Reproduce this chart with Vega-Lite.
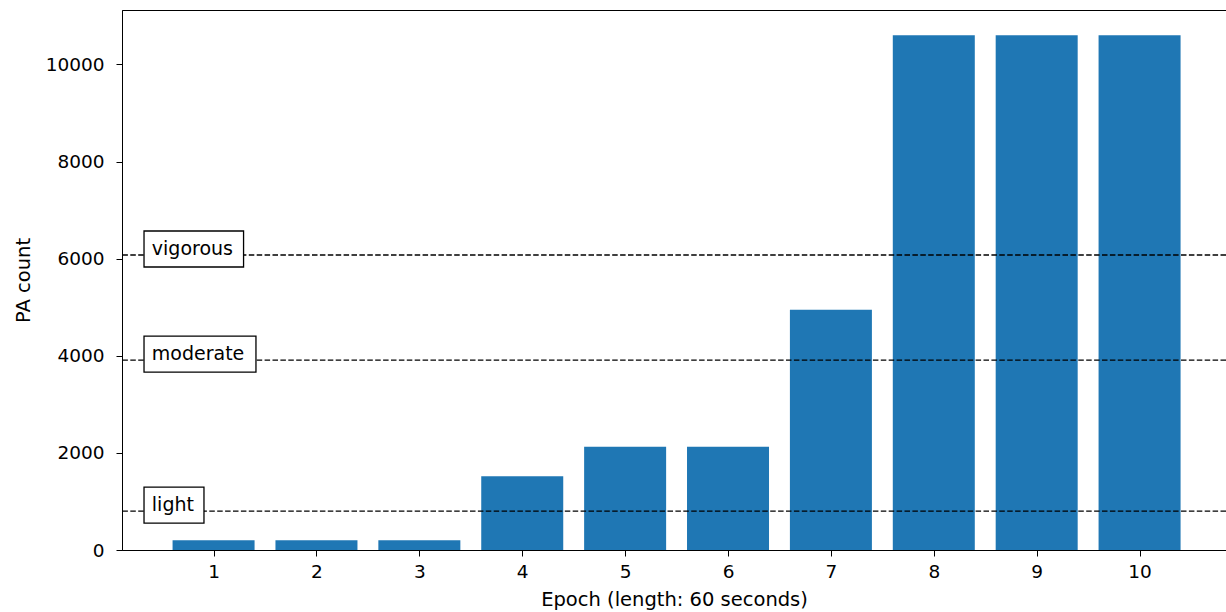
{
  "$schema": "https://vega.github.io/schema/vega-lite/v6.json",
  "width": 1104,
  "height": 540,
  "autosize": {"type": "none"},
  "padding": {"left": 122, "top": 10, "right": 0, "bottom": 62},
  "background": "white",
  "datasets": {
    "bars": [
      {"epoch": 1, "count": 200},
      {"epoch": 2, "count": 200},
      {"epoch": 3, "count": 200},
      {"epoch": 4, "count": 1520},
      {"epoch": 5, "count": 2125},
      {"epoch": 6, "count": 2125},
      {"epoch": 7, "count": 4945},
      {"epoch": 8, "count": 10600},
      {"epoch": 9, "count": 10600},
      {"epoch": 10, "count": 10600}
    ],
    "thresholds": [
      {"label": "light", "value": 800},
      {"label": "moderate", "value": 3910},
      {"label": "vigorous", "value": 6075}
    ]
  },
  "config": {
    "view": {"stroke": "black", "strokeWidth": 1},
    "font": "DejaVu Sans",
    "axis": {
      "labelFont": "DejaVu Sans",
      "titleFont": "DejaVu Sans",
      "labelFontSize": 18.5,
      "titleFontSize": 19.5,
      "titleFontWeight": "normal",
      "labelColor": "black",
      "titleColor": "black",
      "domainColor": "black",
      "tickColor": "black",
      "grid": false,
      "tickSize": 6,
      "format": "d"
    }
  },
  "layer": [
    {
      "data": {"name": "bars"},
      "mark": {"type": "bar", "size": 82, "color": "#1f77b4"},
      "encoding": {
        "x": {
          "field": "epoch", "type": "quantitative",
          "scale": {"domain": [0.11, 10.84], "nice": false, "zero": false, "padding": 0},
          "axis": {"values": [1, 2, 3, 4, 5, 6, 7, 8, 9, 10], "title": "Epoch (length: 60 seconds)", "labelPadding": 6, "titlePadding": 10}
        },
        "y": {
          "field": "count", "type": "quantitative",
          "scale": {"domain": [0, 11120], "nice": false, "padding": 0},
          "axis": {"values": [0, 2000, 4000, 6000, 8000, 10000], "title": "PA count", "labelPadding": 12, "titlePadding": 12}
        }
      }
    },
    {
      "data": {"name": "thresholds"},
      "mark": {"type": "rule", "color": "black", "strokeWidth": 1.4, "strokeDash": [5.5, 2.4]},
      "encoding": {
        "y": {"field": "value", "type": "quantitative", "title": "PA count"}
      }
    },
    {
      "data": {"name": "thresholds"},
      "transform": [{"filter": "datum.label === 'vigorous'"}],
      "mark": {"type": "rect", "fill": "white", "stroke": "black", "strokeWidth": 1.3, "height": 36, "yOffset": -6},
      "encoding": {
        "x": {"datum": 0.324, "type": "quantitative", "title": "Epoch (length: 60 seconds)"},
        "x2": {"datum": 1.2915},
        "y": {"field": "value", "type": "quantitative", "title": "PA count"}
      }
    },
    {
      "data": {"name": "thresholds"},
      "transform": [{"filter": "datum.label === 'moderate'"}],
      "mark": {"type": "rect", "fill": "white", "stroke": "black", "strokeWidth": 1.3, "height": 36, "yOffset": -6},
      "encoding": {
        "x": {"datum": 0.324, "type": "quantitative", "title": "Epoch (length: 60 seconds)"},
        "x2": {"datum": 1.412},
        "y": {"field": "value", "type": "quantitative", "title": "PA count"}
      }
    },
    {
      "data": {"name": "thresholds"},
      "transform": [{"filter": "datum.label === 'light'"}],
      "mark": {"type": "rect", "fill": "white", "stroke": "black", "strokeWidth": 1.3, "height": 36, "yOffset": -6},
      "encoding": {
        "x": {"datum": 0.324, "type": "quantitative", "title": "Epoch (length: 60 seconds)"},
        "x2": {"datum": 0.9067},
        "y": {"field": "value", "type": "quantitative", "title": "PA count"}
      }
    },
    {
      "data": {"name": "thresholds"},
      "mark": {"type": "text", "align": "left", "baseline": "alphabetic", "font": "DejaVu Sans", "fontSize": 19, "color": "black"},
      "encoding": {
        "x": {"datum": 0.4, "type": "quantitative", "title": "Epoch (length: 60 seconds)"},
        "y": {"field": "value", "type": "quantitative", "title": "PA count"},
        "text": {"field": "label"}
      }
    }
  ]
}
